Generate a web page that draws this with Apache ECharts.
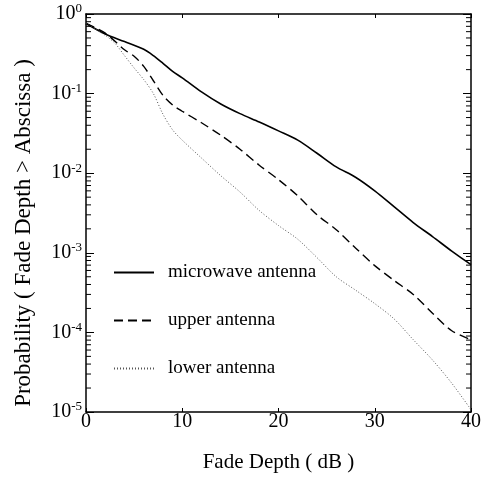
<!DOCTYPE html>
<html><head><meta charset="utf-8">
<script src="https://cdn.jsdelivr.net/npm/echarts@6/dist/echarts.min.js"></script>
<style>html,body{margin:0;padding:0;background:#fff}#c{width:484px;height:478px}</style>
</head><body><div id="c"></div>
<script>
// Fade depth (dB) sample points and exceedance probabilities
var microX = [0,2,4,6,7,8,9,10,12,14,16,18,20,22,24,26,28,30,32,34,36,38,40];
var microY = [0.76,0.56,0.45,0.36,0.30,0.24,0.19,0.158,0.105,0.074,0.056,0.044,0.034,0.026,0.0178,0.012,0.0089,0.006,0.0038,0.0024,0.0016,0.00105,0.00071];
var upperX = [0,2,4,5,6,7,8,9,10,12,14,16,18,20,22,24,26,28,30,32,34,36,38,40];
var upperY = [0.76,0.575,0.355,0.295,0.22,0.145,0.095,0.072,0.060,0.043,0.030,0.020,0.0126,0.0083,0.0052,0.0030,0.00195,0.00115,0.00069,0.00045,0.0003,0.000174,0.000105,0.000081];
var lowerX = [0,2,3,4,5,6,7,8,9,10,12,14,16,18,20,22,24,26,28,30,32,34,36,38,40];
var lowerY = [0.76,0.54,0.43,0.30,0.21,0.15,0.10,0.055,0.035,0.026,0.0155,0.0093,0.0058,0.0034,0.0022,0.00148,0.00087,0.0005,0.00034,0.00023,0.000148,0.000081,0.000045,0.000023,0.0000107];
var seriesNames = ['microwave antenna','upper antenna','lower antenna'];
var xTicks = [0,10,20,30,40];
var decades = [1e-5,1e-4,1e-3,1e-2,1e-1,1];
var minorMult = [2,3,4,5,6,7,8,9];

var minorTicks = [];
for (var d = 0; d < decades.length - 1; d++) {
  for (var m = 0; m < minorMult.length; m++) minorTicks.push([0, decades[d] * minorMult[m]]);
}
function pairs(xs, ys){ return xs.map(function(x,i){ return [x, ys[i]]; }); }

var FONT = 'Liberation Serif';
var chart = echarts.init(document.getElementById('c'), null, {renderer:'canvas'});
chart.setOption({
  animation: false,
  backgroundColor: '#fff',
  textStyle: {fontFamily: FONT, color: '#000'},
  grid: {left: 86, right: 10, top: 14, bottom: 65},
  legend: {
    orient: 'vertical', left: 108, top: 258, itemWidth: 40, itemHeight: 14, itemGap: 29,
    data: seriesNames,
    itemStyle: {color: 'transparent', borderColor: 'transparent', borderWidth: 0, opacity: 0},
    textStyle: {fontFamily: FONT, fontSize: 19, color: '#000', padding: [0,0,0,9]}
  },
  xAxis: [{
    type: 'value', min: 0, max: 40, interval: 10, position: 'bottom',
    name: 'Fade Depth ( dB )', nameLocation: 'middle', nameGap: 40,
    nameTextStyle: {fontFamily: FONT, fontSize: 21, color: '#000'},
    axisLine: {show: true, onZero: false, lineStyle: {color: '#000', width: 1.5}},
    axisTick: {show: true, inside: true, length: 4, lineStyle: {color: '#000'}},
    axisLabel: {fontFamily: FONT, fontSize: 20, color: '#000', margin: 0},
    splitLine: {show: false}
  },{
    type: 'value', min: 0, max: 40, interval: 10, position: 'top',
    axisLine: {show: true, onZero: false, lineStyle: {color: '#000', width: 1.5}},
    axisTick: {show: true, inside: true, length: 4, lineStyle: {color: '#000'}},
    axisLabel: {show: false}, splitLine: {show: false}
  }],
  yAxis: [{
    type: 'log', logBase: 10, min: 1e-5, max: 1, position: 'left',
    name: 'Probability ( Fade Depth > Abscissa )', nameLocation: 'middle', nameGap: 51,
    nameTextStyle: {fontFamily: FONT, fontSize: 23, color: '#000', padding: [0, 40, 0, 0]},
    axisLine: {show: true, onZero: false, lineStyle: {color: '#000', width: 1.5}},
    axisTick: {show: true, inside: true, length: 8, lineStyle: {color: '#000'}},
    axisLabel: {
      margin: 4,
      formatter: function(v){ var e = Math.round(Math.log10(v)); return '{b|10}{s|' + e + '}'; },
      rich: {
        b: {fontFamily: FONT, fontSize: 20, color: '#000'},
        s: {fontFamily: FONT, fontSize: 13, color: '#000', padding: [0,0,10,0]}
      }
    },
    splitLine: {show: false}
  },{
    type: 'log', logBase: 10, min: 1e-5, max: 1, position: 'right',
    axisLine: {show: true, onZero: false, lineStyle: {color: '#000', width: 1.5}},
    axisTick: {show: true, inside: true, length: 8, lineStyle: {color: '#000'}},
    axisLabel: {show: false}, splitLine: {show: false}
  }],
  series: [
    {name: seriesNames[0], type: 'line', data: pairs(microX, microY), smooth: 0.3, symbol: 'none',
     lineStyle: {color: '#000', width: 1.6, type: 'solid'}, itemStyle: {color: '#000'}},
    {name: seriesNames[1], type: 'line', data: pairs(upperX, upperY), smooth: 0.3, symbol: 'none',
     lineStyle: {color: '#000', width: 1.4, type: [9,5]}, itemStyle: {color: '#000'}},
    {name: seriesNames[2], type: 'line', data: pairs(lowerX, lowerY), smooth: 0.3, symbol: 'none',
     lineStyle: {color: '#555', width: 1, type: [1,2]}, itemStyle: {color: '#555'}},
    {name: 'minorTicks', type: 'custom', data: minorTicks, silent: true, z: 5,
     renderItem: function(params, api){
       var v = api.value(1);
       var p = api.coord([0, v]);
       var q = api.coord([40, v]);
       var st = {stroke: '#000', lineWidth: 1};
       return {type: 'group', children: [
         {type: 'line', shape: {x1: p[0], y1: p[1], x2: p[0] + 5, y2: p[1]}, style: st},
         {type: 'line', shape: {x1: q[0] - 5, y1: q[1], x2: q[0], y2: q[1]}, style: st}
       ]};
     }}
  ]
});
</script></body></html>
